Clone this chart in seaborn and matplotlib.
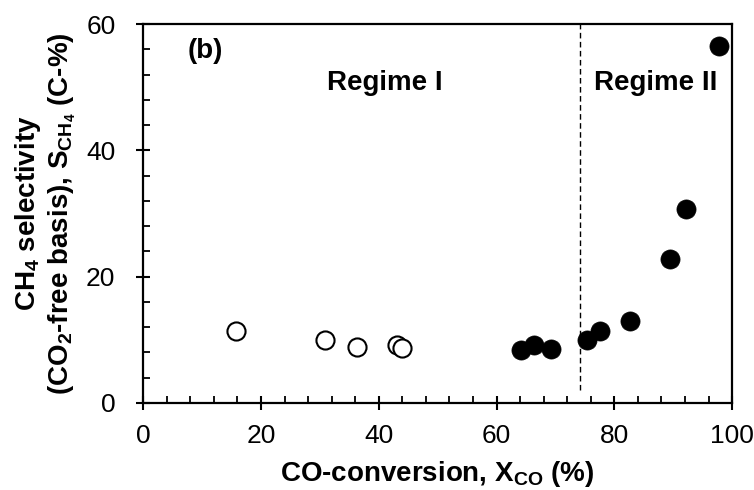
import numpy as np
import pandas as pd
import matplotlib
matplotlib.use('Agg')
import matplotlib.pyplot as plt
import seaborn as sns
from matplotlib.ticker import MultipleLocator

# CO conversion (%) and CH4 selectivity (C-%)
regime1_x = [15.8, 30.9, 36.3, 43.1, 44.0]
regime1_y = [11.4, 9.9, 8.8, 9.2, 8.6]
regime2_x = [64.1, 66.4, 69.3, 75.4, 77.6, 82.6, 89.4, 92.2, 97.8]
regime2_y = [8.4, 9.2, 8.5, 10.0, 11.3, 13.0, 22.7, 30.7, 56.5]
boundary_x = 74.1

sns.set_style('ticks', {'axes.edgecolor': 'black', 'xtick.color': 'black',
                        'ytick.color': 'black', 'text.color': 'black',
                        'axes.labelcolor': 'black'})
plt.rcParams['font.family'] = ['Liberation Sans', 'DejaVu Sans']
plt.rcParams['mathtext.fontset'] = 'custom'
plt.rcParams['mathtext.rm'] = 'Liberation Sans'
plt.rcParams['mathtext.bf'] = 'Liberation Sans:bold'
plt.rcParams['mathtext.default'] = 'bf'

df1 = pd.DataFrame({'x': regime1_x, 'y': regime1_y})
df2 = pd.DataFrame({'x': regime2_x, 'y': regime2_y})

fig = plt.figure(figsize=(7.54, 4.9), dpi=100)
ax = fig.add_axes([0.19, 0.178, 0.781, 0.773])

sns.scatterplot(data=df1, x='x', y='y', ax=ax, s=170, facecolor='white',
                edgecolor='black', linewidth=1.5, zorder=3, clip_on=False)
sns.scatterplot(data=df2, x='x', y='y', ax=ax, s=190, color='black',
                edgecolor='black', linewidth=0.5, zorder=3, clip_on=False)

ax.plot([boundary_x, boundary_x], [2, 60], color='black', linestyle='--',
        linewidth=1, dashes=(4, 2.5))

ax.set_xlim(0, 100)
ax.set_ylim(0, 60)
ax.xaxis.set_major_locator(MultipleLocator(20))
ax.xaxis.set_minor_locator(MultipleLocator(4))
ax.yaxis.set_major_locator(MultipleLocator(20))
ax.yaxis.set_minor_locator(MultipleLocator(4))
ax.tick_params(which='major', direction='inout', length=10, width=1.5,
               labelsize=19, colors='black')
ax.tick_params(axis='x', which='major', pad=10)
ax.tick_params(axis='y', which='major', pad=15)
ax.tick_params(which='minor', direction='in', length=5, width=1.3,
               colors='black')
for sp in ax.spines.values():
    sp.set_linewidth(1.6)
    sp.set_color('black')
    sp.set_visible(True)

ax.set_xlabel('CO-conversion, X$_{CO}$ (%)', fontsize=20, fontweight='bold',
              labelpad=8)
ax.set_ylabel('CH$_4$ selectivity\n(CO$_2$-free basis), S$_{CH_4}$ (C-%)',
              fontsize=20, fontweight='bold', labelpad=6, linespacing=1.15)

ax.text(0.075, 0.93, '(b)', transform=ax.transAxes, fontsize=20,
        fontweight='bold', ha='left', va='center')
ax.text(0.41, 0.845, 'Regime I', transform=ax.transAxes, fontsize=20,
        fontweight='bold', ha='center', va='center')
ax.text(0.87, 0.845, 'Regime II', transform=ax.transAxes, fontsize=20,
        fontweight='bold', ha='center', va='center')

fig.savefig('out.png', dpi=100)
